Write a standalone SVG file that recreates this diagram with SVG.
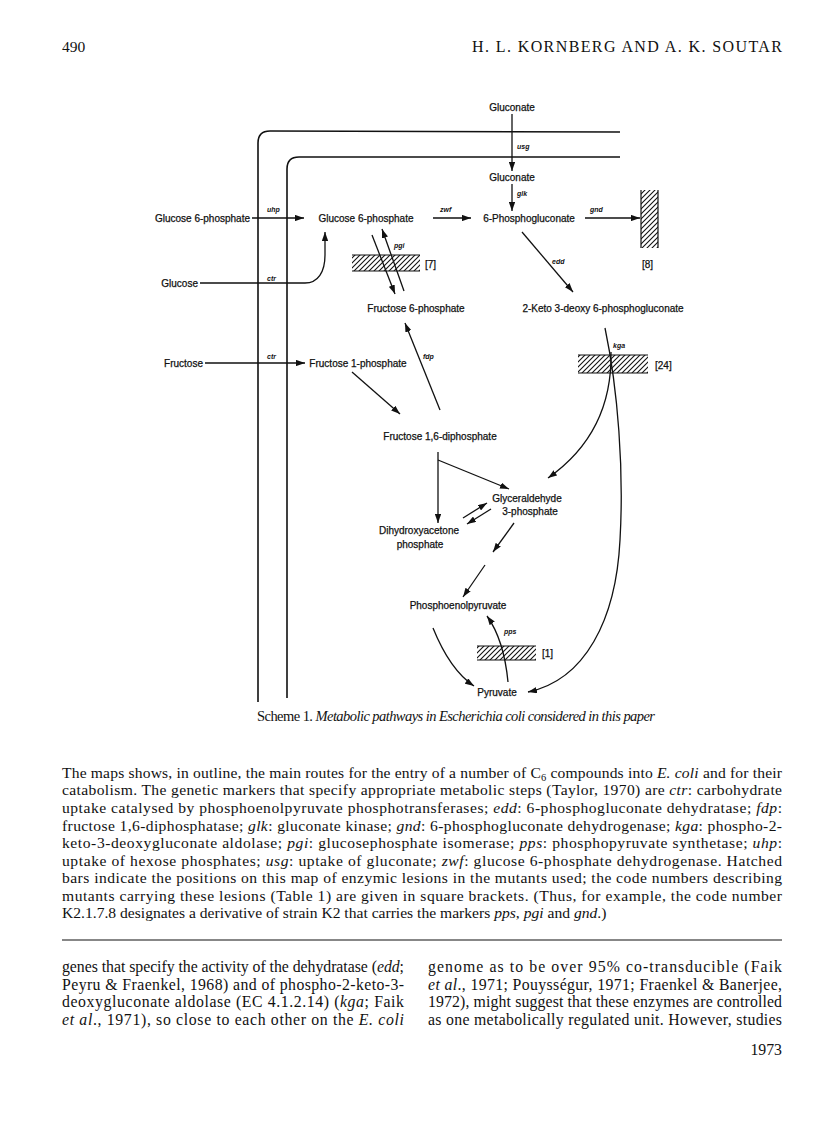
<svg xmlns="http://www.w3.org/2000/svg" width="816" height="1136" viewBox="0 0 816 1136">
<style>
.n{font-family:"Liberation Sans",Arial,sans-serif;font-size:10px;fill:#111;stroke:#111;stroke-width:0.25}
.e{font-family:"Liberation Sans",Arial,sans-serif;font-size:7px;font-style:italic;font-weight:bold;fill:#111}
.s{font-family:"Liberation Serif","Times New Roman",serif;fill:#111}
.i{font-style:italic}
.c{fill:none;stroke:#111;stroke-width:1.3}
.a{marker-end:url(#ah)}
.m{fill:none;stroke:#111;stroke-width:1.6}
.h{fill:url(#hatch);stroke:none}
.hb{stroke:#111;stroke-width:1.2;fill:none}
</style>
<defs>
<marker id="ah" viewBox="0 0 10 7" refX="10" refY="3.5" markerWidth="9" markerHeight="6.3" markerUnits="userSpaceOnUse" orient="auto">
<path d="M0,0 L10,3.5 L0,7 z" fill="#111"/>
</marker>
<pattern id="hatch" patternUnits="userSpaceOnUse" width="5" height="5">
<path d="M0,5 L5,0 M-1,1 L1,-1 M4,6 L6,4" stroke="#111" stroke-width="1.1"/>
</pattern>
</defs>
<rect width="816" height="1136" fill="#fff"/>

<g id="header">
<text class="s" x="62" y="52" font-size="15.5">490</text>
<text class="s" x="782" y="52" font-size="16" text-anchor="end" textLength="310" lengthAdjust="spacing">H. L. KORNBERG AND A. K. SOUTAR</text>
</g>

<g id="membrane">
<path class="m" d="M620 132 L270 131 Q258 131 258 143 L258 702"/>
<path class="m" d="M620 157 L299 157 Q287 157 287 169 L287 698"/>
</g>

<g id="connectors">
<path class="c a" d="M512 114 L512 171"/>
<path class="c a" d="M512 184 L512 211"/>
<path class="c a" d="M252 218 L304 218"/>
<path class="c a" d="M433 218 L471 218"/>
<path class="c a" d="M585 218 L640 218"/>
<path class="c a" d="M200 283 L305 283 C318 283 325 272 325 255 L325 232"/>
<path class="c a" d="M372 235 L395 294"/>
<path class="c a" d="M404 291 L382 229"/>
<path class="c a" d="M522 232 L573 292"/>
<path class="c a" d="M205 363 L305 363"/>
<path class="c a" d="M352 372 L400 414"/>
<path class="c a" d="M440 410 L405 323"/>
<path class="c a" d="M438 452 L438 523"/>
<path class="c a" d="M438 460 L509 489"/>
<path class="c a" d="M463 518 L487 503"/>
<path class="c a" d="M491 509 L467 524"/>
<path class="c a" d="M514 523 L493 552"/>
<path class="c a" d="M485 565 L463 597"/>
<path class="c a" d="M433 628 Q450 670 474 686"/>
<path class="c a" d="M508 682 Q504 640 487 616"/>
<path class="c a" d="M611 352 C612 400 595 445 548 478"/>
<path class="c a" d="M605 328 C618 390 624 470 620 540 C616 620 585 680 528 692"/>
</g>

<g id="enzyme-labels">
<text class="e" x="517" y="149">usg</text>
<text class="e" x="517" y="196">glk</text>
<text class="e" x="267" y="212">uhp</text>
<text class="e" x="440" y="212">zwf</text>
<text class="e" x="590" y="212">gnd</text>
<text class="e" x="394" y="248">pgi</text>
<text class="e" x="267" y="281">ctr</text>
<text class="e" x="552" y="264">edd</text>
<text class="e" x="267" y="359">ctr</text>
<text class="e" x="423" y="359">fdp</text>
<text class="e" x="613" y="348">kga</text>
<text class="e" x="504" y="634">pps</text>
</g>

<g id="lesion-7">
<rect class="h" x="352" y="255" width="68" height="16"/>
<path class="hb" d="M352 255 L420 255 M352 271 L420 271"/>
<text class="n" x="425" y="268">[7]</text>
</g>
<g id="lesion-8">
<rect class="h" x="641" y="190" width="17" height="58"/>
<path class="hb" d="M641 190 L641 248 M658 190 L658 248"/>
<text class="n" x="642" y="268">[8]</text>
</g>
<g id="lesion-24">
<rect class="h" x="578" y="355" width="70" height="18"/>
<path class="hb" d="M578 355 L648 355 M578 373 L648 373"/>
<text class="n" x="655" y="369">[24]</text>
</g>
<g id="lesion-1">
<rect class="h" x="477" y="646" width="59" height="14"/>
<path class="hb" d="M477 646 L536 646 M477 660 L536 660"/>
<text class="n" x="542" y="657">[1]</text>
</g>

<g id="gluconate-out"><text class="n" x="512" y="111" text-anchor="middle">Gluconate</text></g>
<g id="gluconate-in"><text class="n" x="512" y="181" text-anchor="middle">Gluconate</text></g>
<g id="g6p-out"><text class="n" x="250" y="222" text-anchor="end">Glucose 6-phosphate</text></g>
<g id="g6p-in"><text class="n" x="366" y="222" text-anchor="middle">Glucose 6-phosphate</text></g>
<g id="p6g"><text class="n" x="529" y="222" text-anchor="middle">6-Phosphogluconate</text></g>
<g id="glucose"><text class="n" x="198" y="287" text-anchor="end">Glucose</text></g>
<g id="f6p"><text class="n" x="416" y="312" text-anchor="middle">Fructose 6-phosphate</text></g>
<g id="kdpg"><text class="n" x="603" y="312" text-anchor="middle">2-Keto 3-deoxy 6-phosphogluconate</text></g>
<g id="fructose"><text class="n" x="203" y="367" text-anchor="end">Fructose</text></g>
<g id="f1p"><text class="n" x="358" y="367" text-anchor="middle">Fructose 1-phosphate</text></g>
<g id="fdp"><text class="n" x="440" y="440" text-anchor="middle">Fructose 1,6-diphosphate</text></g>
<g id="g3p">
<text class="n" x="527" y="502" text-anchor="middle">Glyceraldehyde</text>
<text class="n" x="530" y="515" text-anchor="middle">3-phosphate</text>
</g>
<g id="dhap">
<text class="n" x="419" y="534" text-anchor="middle">Dihydroxyacetone</text>
<text class="n" x="420" y="548" text-anchor="middle">phosphate</text>
</g>
<g id="pep"><text class="n" x="458" y="609" text-anchor="middle">Phosphoenolpyruvate</text></g>
<g id="pyruvate"><text class="n" x="497" y="696" text-anchor="middle">Pyruvate</text></g>

<g id="caption">
<text class="s" x="257" y="721" font-size="14.5" textLength="398" lengthAdjust="spacing">Scheme 1. <tspan class="i">Metabolic pathways in Escherichia coli considered in this paper</tspan></text>
<g font-size="15.6">
<text class="s" x="62" y="778" textLength="720" lengthAdjust="spacing">The maps shows, in outline, the main routes for the entry of a number of C<tspan font-size="10.5" dy="3">6</tspan><tspan dy="-3"> compounds into </tspan><tspan class="i">E. coli</tspan> and for their</text>
<text class="s" x="62" y="795" textLength="720" lengthAdjust="spacing">catabolism. The genetic markers that specify appropriate metabolic steps (Taylor, 1970) are <tspan class="i">ctr</tspan>: carbohydrate</text>
<text class="s" x="62" y="813" textLength="720" lengthAdjust="spacing">uptake catalysed by phosphoenolpyruvate phosphotransferases; <tspan class="i">edd</tspan>: 6-phosphogluconate dehydratase; <tspan class="i">fdp</tspan>:</text>
<text class="s" x="62" y="831" textLength="720" lengthAdjust="spacing">fructose 1,6-diphosphatase; <tspan class="i">glk</tspan>: gluconate kinase; <tspan class="i">gnd</tspan>: 6-phosphogluconate dehydrogenase; <tspan class="i">kga</tspan>: phospho-2-</text>
<text class="s" x="62" y="848" textLength="720" lengthAdjust="spacing">keto-3-deoxygluconate aldolase; <tspan class="i">pgi</tspan>: glucosephosphate isomerase; <tspan class="i">pps</tspan>: phosphopyruvate synthetase; <tspan class="i">uhp</tspan>:</text>
<text class="s" x="62" y="866" textLength="720" lengthAdjust="spacing">uptake of hexose phosphates; <tspan class="i">usg</tspan>: uptake of gluconate; <tspan class="i">zwf</tspan>: glucose 6-phosphate dehydrogenase. Hatched</text>
<text class="s" x="62" y="883" textLength="720" lengthAdjust="spacing">bars indicate the positions on this map of enzymic lesions in the mutants used; the code numbers describing</text>
<text class="s" x="62" y="901" textLength="720" lengthAdjust="spacing">mutants carrying these lesions (Table 1) are given in square brackets. (Thus, for example, the code number</text>
<text class="s" x="62" y="918">K2.1.7.8 designates a derivative of strain K2 that carries the markers <tspan class="i">pps</tspan>, <tspan class="i">pgi</tspan> and <tspan class="i">gnd</tspan>.)</text>
</g>
</g>

<g id="rule"><path d="M62 940 L782 940" stroke="#111" stroke-width="1.2"/></g>

<g id="body" font-size="15.8">
<text class="s" x="62" y="972" textLength="342" lengthAdjust="spacing">genes that specify the activity of the dehydratase (<tspan class="i">edd</tspan>;</text>
<text class="s" x="62" y="990" textLength="342" lengthAdjust="spacing">Peyru &amp; Fraenkel, 1968) and of phospho-2-keto-3-</text>
<text class="s" x="62" y="1007" textLength="342" lengthAdjust="spacing">deoxygluconate aldolase (EC 4.1.2.14) (<tspan class="i">kga</tspan>; Faik</text>
<text class="s" x="62" y="1025" textLength="342" lengthAdjust="spacing"><tspan class="i">et al</tspan>., 1971), so close to each other on the <tspan class="i">E. coli</tspan></text>
<text class="s" x="428" y="972" textLength="354" lengthAdjust="spacing">genome as to be over 95% co-transducible (Faik</text>
<text class="s" x="428" y="990" textLength="354" lengthAdjust="spacing"><tspan class="i">et al</tspan>., 1971; Pouysségur, 1971; Fraenkel &amp; Banerjee,</text>
<text class="s" x="428" y="1007" textLength="354" lengthAdjust="spacing">1972), might suggest that these enzymes are controlled</text>
<text class="s" x="428" y="1025" textLength="354" lengthAdjust="spacing">as one metabolically regulated unit. However, studies</text>
<text class="s" x="782" y="1055" text-anchor="end">1973</text>
</g>
</svg>
